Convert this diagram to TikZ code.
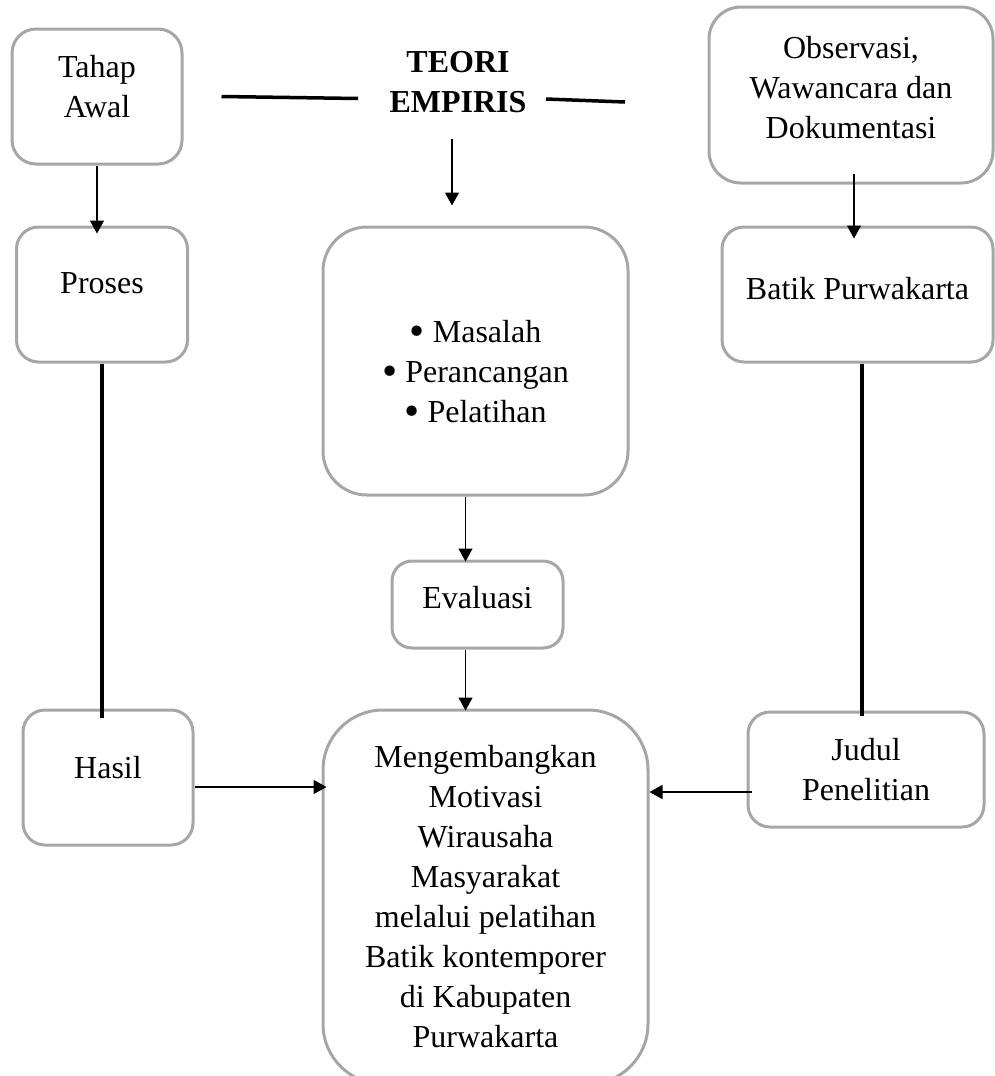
\documentclass[tikz,border=0pt]{standalone}
\usepackage{fontspec}
\setmainfont{Liberation Serif}
\usetikzlibrary{arrows.meta,calc}
\definecolor{abu}{RGB}{166,166,166}
\newcommand{\titik}{\raisebox{-1.9pt}{\scalebox{1.35}{\textbullet}}}
\begin{document}
\begin{tikzpicture}[x=0.5pt,y=-0.5pt,>={Triangle[length=6.5pt,width=7pt]},
	every node/.style={font=\fontsize{16}{20}\selectfont},
	kotak/.style={draw=abu,line width=1.5pt,rounded corners=#1,align=center,inner sep=0pt},
	kotak/.default=11pt,
	panah/.style={->,line width=0.65pt},
	tebal/.style={line width=1.75pt}]
	\clip (0,0) rectangle (995,1076);
	\node[kotak=12pt,minimum width=85pt,minimum height=67.5pt,text depth=10pt](tahap)at(97,96.5){Tahap\\Awal};
	\node[align=center,inner sep=0pt,font=\fontsize{16}{20}\selectfont\bfseries](teori)at(458,82){TEORI\\EMPIRIS};
	\node[kotak=16pt,minimum width=142pt,minimum height=88pt,text depth=8pt](obs)at(851,95){Observasi,\\Wawancara dan\\Dokumentasi};
	\node[kotak,minimum width=85.5pt,minimum height=67.5pt,text depth=11pt](proses)at(102,294.5){Proses};
	\node[kotak=22pt,minimum width=152.5pt,minimum height=134pt,text height=61pt,text depth=0pt](masalah)at(475.5,361){\titik{} Masalah\\\titik{} Perancangan\\\titik{} Pelatihan};
	\node[kotak,minimum width=135.5pt,minimum height=67.5pt,text depth=6pt](batik)at(857.5,294.5){Batik Purwakarta};
	\node[kotak=10pt,minimum width=85.5pt,minimum height=43.5pt,text depth=7pt](evaluasi)at(477.5,604.5){Evaluasi};
	\node[kotak,minimum width=85pt,minimum height=67.5pt,text depth=10pt](hasil)at(108,777.5){Hasil};
	\node[kotak=30pt,minimum width=162.5pt,minimum height=187pt](tujuan)at(485.5,897){Mengembangkan\\Motivasi\\Wirausaha\\Masyarakat\\melalui pelatihan\\Batik kontemporer\\di Kabupaten\\Purwakarta};
	\node[kotak,minimum width=118pt,minimum height=57.5pt](judul)at(866,769.5){Judul\\Penelitian};
	\coordinate(garisakhir)at(625,102);
	\draw[tebal]([xshift=19pt]tahap.east)--([xshift=-15.5pt,yshift=-1pt]teori.west|-tahap.east);
	\draw[tebal]([xshift=9.5pt,yshift=-8.5pt]teori.east)--(garisakhir);
	\draw[panah](tahap.south)--([yshift=-4pt]tahap.south|-proses.north);
	\draw[panah]([xshift=-3pt,yshift=-13pt]teori.south)--([xshift=-3pt,yshift=10pt]teori.south|-masalah.north);
	\draw[panah]([xshift=1.5pt,yshift=5.5pt]obs.south)--([xshift=1.5pt,yshift=-6.5pt]obs.south|-batik.north);
	\draw[panah]([xshift=-6pt]evaluasi.north|-masalah.south)--([xshift=-6pt,yshift=-1pt]evaluasi.north);
	\draw[panah]([xshift=-6pt]evaluasi.south)--([xshift=-6pt,yshift=-1pt]evaluasi.south|-tujuan.north);
	\draw[panah]([yshift=-4.75pt]hasil.east)--([xshift=2.5pt,yshift=-4.75pt]hasil.east-|tujuan.west);
	\draw[panah]([xshift=2.5pt,yshift=-11.25pt]judul.west)--([yshift=-11.25pt]judul.west-|tujuan.east);
	\draw[tebal](proses.south)--([yshift=-4.5pt]proses.south|-hasil.north);
	\draw[tebal]([xshift=2.25pt]batik.south)--([xshift=2.25pt,yshift=-2.5pt]batik.south|-judul.north);
\end{tikzpicture}
\end{document}
